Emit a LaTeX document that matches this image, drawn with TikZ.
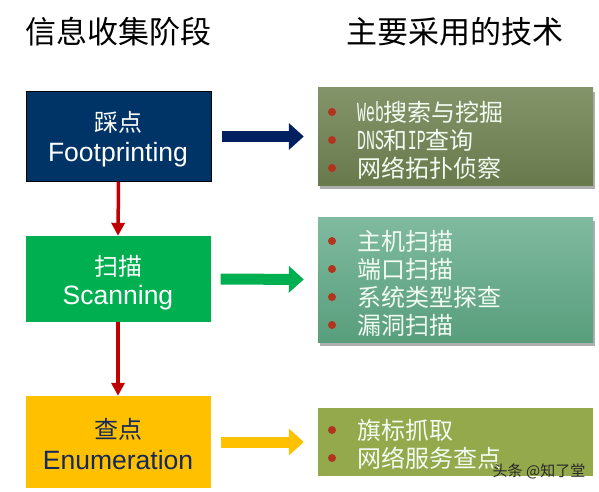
\documentclass[tikz,border=0pt]{standalone}
\usepackage{fontspec}
\usepackage{graphicx}
\setmainfont{Liberation Sans}
\newfontfamily\cjk{Noto Sans CJK SC}
\newfontfamily\mono{Liberation Mono}
\usetikzlibrary{arrows.meta,shadows}
\definecolor{navybox}{RGB}{0,51,102}
\definecolor{navyarrow}{RGB}{0,32,96}
\definecolor{greenbox}{RGB}{0,176,80}
\definecolor{goldbox}{RGB}{255,192,0}
\definecolor{redarrow}{RGB}{192,0,0}
\definecolor{enumtext}{RGB}{20,40,90}
\definecolor{oliveTop}{RGB}{132,148,106}
\definecolor{oliveBot}{RGB}{104,122,76}
\definecolor{tealTop}{RGB}{128,186,160}
\definecolor{tealBot}{RGB}{88,158,124}
\definecolor{limebox}{RGB}{148,168,76}
\definecolor{bulletred}{RGB}{178,52,28}
\definecolor{techtext}{RGB}{242,252,242}
\definecolor{wmark}{RGB}{40,40,40}
\newcommand{\lat}[1]{\scalebox{0.62}[1.15]{\mono #1}}
\begin{document}
\begin{tikzpicture}[x=1pt,y=-1pt,
  titletext/.style={font=\cjk\fontsize{31}{36}\selectfont, text=black, inner sep=0pt},
  stagebox/.style={minimum width=185pt, minimum height=89pt, inner sep=0pt, draw=none},
  cjklab/.style={font=\cjk\fontsize{24}{28}\selectfont, inner sep=0pt},
  enlab/.style={font=\fontsize{26.5}{30}\selectfont, inner sep=0pt},
  techbox/.style={minimum width=275pt, inner sep=0pt, draw=none},
  techshadow/.style={drop shadow={shadow xshift=2pt, shadow yshift=-4pt, opacity=0.45, fill=black!70}},
  techitem/.style={font=\cjk\fontsize{24}{28}\selectfont, text=techtext, anchor=west, inner sep=0pt},
  flowarrow/.style={draw=redarrow, line width=3.5pt, -{Triangle[width=13pt,length=13pt]}},
  blockarrow/.style={line width=11pt, -{Triangle[width=26pt,length=15pt]}, shorten <=10pt, shorten >=14pt}
]
\useasboundingbox (0,0) rectangle (599,492);

% titles
\node[titletext] (t1) at (118,32) {信息收集阶段};
\node[titletext] (t2) at (455,32) {主要采用的技术};

% stage boxes
\node[stagebox, fill=navybox, draw=black, line width=1pt] (s1) at (118.5,136.5) {};
\node[stagebox, fill=greenbox, minimum height=86pt] (s2) at (118,279) {};
\node[stagebox, fill=goldbox, minimum height=92pt] (s3) at (118,442) {};

\node[cjklab, text=white] (s1a) at (118,122) {踩点};
\node[enlab, text=white] (s1b) at (118,155) {Footprinting};
\node[cjklab, text=white] (s2a) at (118,266) {扫描};
\node[enlab, text=white] (s2b) at (118,298) {Scanning};
\node[cjklab, text=enumtext] (s3a) at (118,429) {查点};
\node[enlab, text=enumtext] (s3b) at (118,460) {Enumeration};

% vertical flow arrows
\draw[flowarrow] (s1.south) -- (s2.north);
\draw[flowarrow] (s2.south) -- (s3.north);

% technique boxes
\node[techbox, techshadow, minimum height=97pt, top color=oliveTop, bottom color=oliveBot] (r1) at (455.5,136.5) {};
\node[techbox, techshadow, minimum height=125pt, top color=tealTop, bottom color=tealBot] (r2) at (455.5,279.5) {};
\node[techbox, minimum height=68pt, fill=limebox] (r3) at (455.5,442) {};

% block arrows
\draw[blockarrow, draw=navyarrow] (s1.east) -- (r1.west);
\draw[blockarrow, draw=greenbox] (s2.east) -- (r2.west);
\draw[blockarrow, draw=goldbox] (s3.east) -- (r3.west);

% bullets
\foreach \yy in {112,140,168,241,269,297,325,430,458}
  \fill[bulletred] (332,\yy) circle (4pt);

% items
\node[techitem] (i1) at (357,112) {\lat{Web}搜索与挖掘};
\node[techitem] (i2) at (357,140) {\lat{DNS}和\lat{IP}查询};
\node[techitem] (i3) at (357,168) {网络拓扑侦察};
\node[techitem] (i4) at (357,241) {主机扫描};
\node[techitem] (i5) at (357,269) {端口扫描};
\node[techitem] (i6) at (357,297) {系统类型探查};
\node[techitem] (i7) at (357,325) {漏洞扫描};
\node[techitem] (i8) at (357,430) {旗标抓取};
\node[techitem] (i9) at (357,458) {网络服务查点};

% watermark
\node[font=\cjk\fontsize{15}{17}\selectfont, text=wmark, inner sep=0pt] (wm) at (539,471) {头条 @知了堂};
\end{tikzpicture}
\end{document}
